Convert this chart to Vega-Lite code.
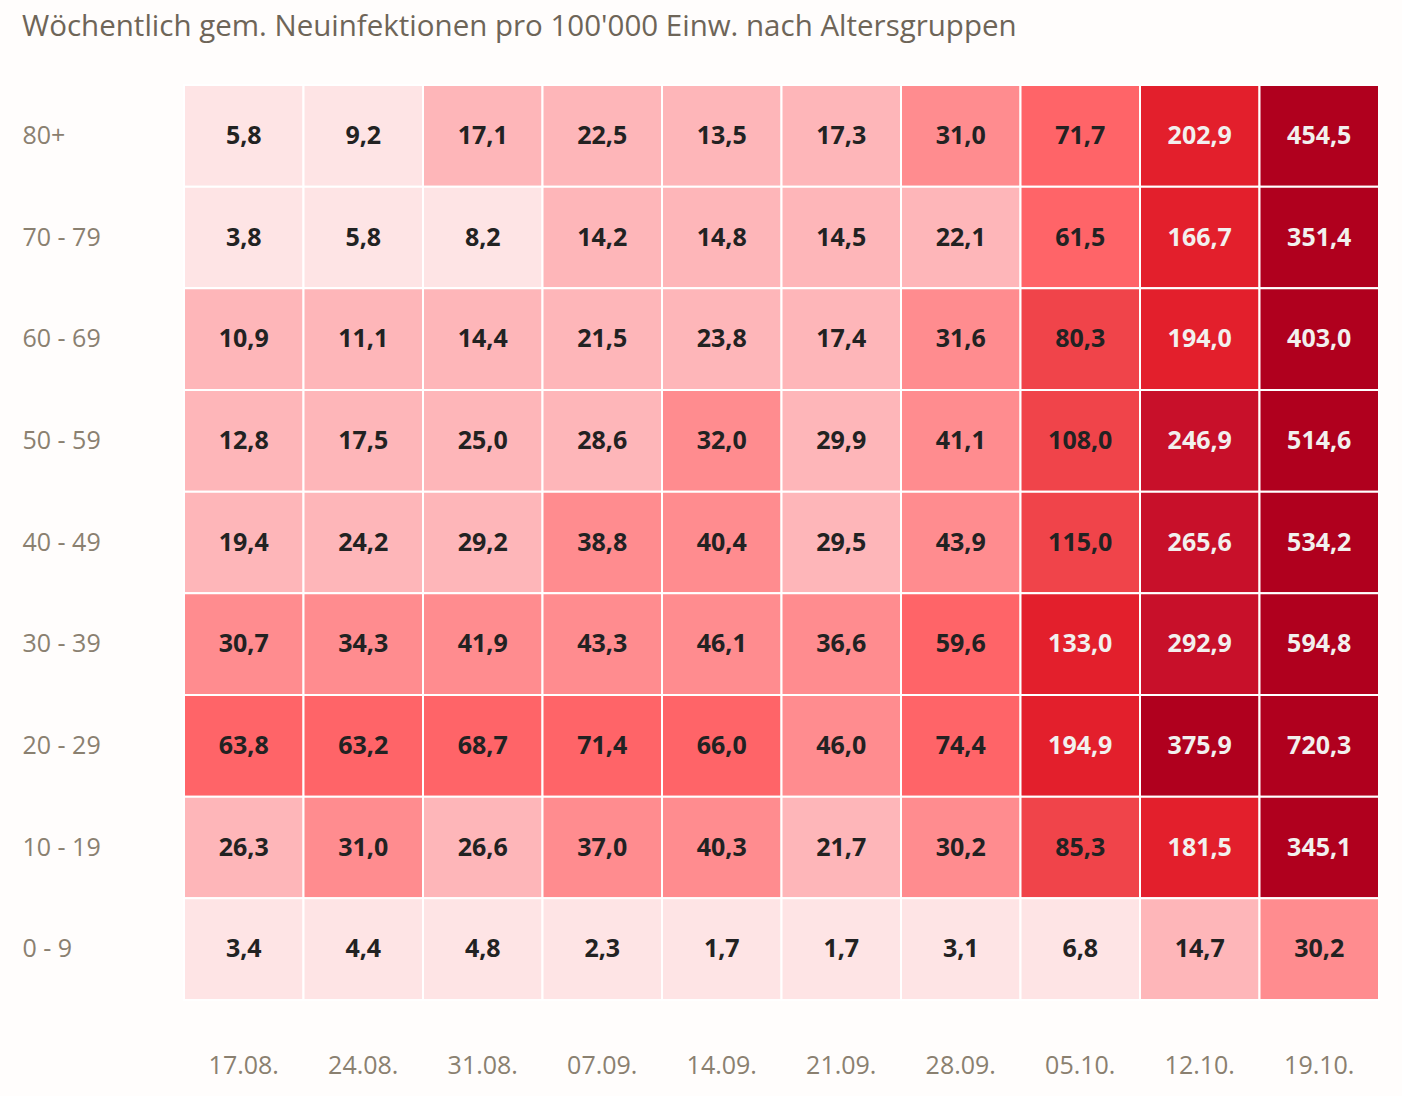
{
  "$schema": "https://vega.github.io/schema/vega-lite/v6.json",
  "autosize": "none",
  "width": 1195,
  "height": 915,
  "padding": {"left": 184, "top": 85, "right": 23, "bottom": 96},
  "background": "#fffdfc",
  "title": {
    "text": "Wöchentlich gem. Neuinfektionen pro 100'000 Einw. nach Altersgruppen",
    "anchor": "start",
    "frame": "group",
    "dx": -162,
    "offset": 42,
    "font": "Open Sans",
    "fontSize": 29.5,
    "fontWeight": "normal",
    "color": "#6e6558"
  },
  "config": {
    "view": {"stroke": null},
    "locale": {"number": {"decimal": ",", "thousands": "'", "grouping": [3], "currency": ["", ""]}}
  },
  "data": {"values": [
    {"d":"17.08.","a":"80+","v":5.8},{"d":"24.08.","a":"80+","v":9.2},{"d":"31.08.","a":"80+","v":17.1},{"d":"07.09.","a":"80+","v":22.5},{"d":"14.09.","a":"80+","v":13.5},{"d":"21.09.","a":"80+","v":17.3},{"d":"28.09.","a":"80+","v":31.0},{"d":"05.10.","a":"80+","v":71.7},{"d":"12.10.","a":"80+","v":202.9},{"d":"19.10.","a":"80+","v":454.5},
    {"d":"17.08.","a":"70 - 79","v":3.8},{"d":"24.08.","a":"70 - 79","v":5.8},{"d":"31.08.","a":"70 - 79","v":8.2},{"d":"07.09.","a":"70 - 79","v":14.2},{"d":"14.09.","a":"70 - 79","v":14.8},{"d":"21.09.","a":"70 - 79","v":14.5},{"d":"28.09.","a":"70 - 79","v":22.1},{"d":"05.10.","a":"70 - 79","v":61.5},{"d":"12.10.","a":"70 - 79","v":166.7},{"d":"19.10.","a":"70 - 79","v":351.4},
    {"d":"17.08.","a":"60 - 69","v":10.9},{"d":"24.08.","a":"60 - 69","v":11.1},{"d":"31.08.","a":"60 - 69","v":14.4},{"d":"07.09.","a":"60 - 69","v":21.5},{"d":"14.09.","a":"60 - 69","v":23.8},{"d":"21.09.","a":"60 - 69","v":17.4},{"d":"28.09.","a":"60 - 69","v":31.6},{"d":"05.10.","a":"60 - 69","v":80.3},{"d":"12.10.","a":"60 - 69","v":194.0},{"d":"19.10.","a":"60 - 69","v":403.0},
    {"d":"17.08.","a":"50 - 59","v":12.8},{"d":"24.08.","a":"50 - 59","v":17.5},{"d":"31.08.","a":"50 - 59","v":25.0},{"d":"07.09.","a":"50 - 59","v":28.6},{"d":"14.09.","a":"50 - 59","v":32.0},{"d":"21.09.","a":"50 - 59","v":29.9},{"d":"28.09.","a":"50 - 59","v":41.1},{"d":"05.10.","a":"50 - 59","v":108.0},{"d":"12.10.","a":"50 - 59","v":246.9},{"d":"19.10.","a":"50 - 59","v":514.6},
    {"d":"17.08.","a":"40 - 49","v":19.4},{"d":"24.08.","a":"40 - 49","v":24.2},{"d":"31.08.","a":"40 - 49","v":29.2},{"d":"07.09.","a":"40 - 49","v":38.8},{"d":"14.09.","a":"40 - 49","v":40.4},{"d":"21.09.","a":"40 - 49","v":29.5},{"d":"28.09.","a":"40 - 49","v":43.9},{"d":"05.10.","a":"40 - 49","v":115.0},{"d":"12.10.","a":"40 - 49","v":265.6},{"d":"19.10.","a":"40 - 49","v":534.2},
    {"d":"17.08.","a":"30 - 39","v":30.7},{"d":"24.08.","a":"30 - 39","v":34.3},{"d":"31.08.","a":"30 - 39","v":41.9},{"d":"07.09.","a":"30 - 39","v":43.3},{"d":"14.09.","a":"30 - 39","v":46.1},{"d":"21.09.","a":"30 - 39","v":36.6},{"d":"28.09.","a":"30 - 39","v":59.6},{"d":"05.10.","a":"30 - 39","v":133.0},{"d":"12.10.","a":"30 - 39","v":292.9},{"d":"19.10.","a":"30 - 39","v":594.8},
    {"d":"17.08.","a":"20 - 29","v":63.8},{"d":"24.08.","a":"20 - 29","v":63.2},{"d":"31.08.","a":"20 - 29","v":68.7},{"d":"07.09.","a":"20 - 29","v":71.4},{"d":"14.09.","a":"20 - 29","v":66.0},{"d":"21.09.","a":"20 - 29","v":46.0},{"d":"28.09.","a":"20 - 29","v":74.4},{"d":"05.10.","a":"20 - 29","v":194.9},{"d":"12.10.","a":"20 - 29","v":375.9},{"d":"19.10.","a":"20 - 29","v":720.3},
    {"d":"17.08.","a":"10 - 19","v":26.3},{"d":"24.08.","a":"10 - 19","v":31.0},{"d":"31.08.","a":"10 - 19","v":26.6},{"d":"07.09.","a":"10 - 19","v":37.0},{"d":"14.09.","a":"10 - 19","v":40.3},{"d":"21.09.","a":"10 - 19","v":21.7},{"d":"28.09.","a":"10 - 19","v":30.2},{"d":"05.10.","a":"10 - 19","v":85.3},{"d":"12.10.","a":"10 - 19","v":181.5},{"d":"19.10.","a":"10 - 19","v":345.1},
    {"d":"17.08.","a":"0 - 9","v":3.4},{"d":"24.08.","a":"0 - 9","v":4.4},{"d":"31.08.","a":"0 - 9","v":4.8},{"d":"07.09.","a":"0 - 9","v":2.3},{"d":"14.09.","a":"0 - 9","v":1.7},{"d":"21.09.","a":"0 - 9","v":1.7},{"d":"28.09.","a":"0 - 9","v":3.1},{"d":"05.10.","a":"0 - 9","v":6.8},{"d":"12.10.","a":"0 - 9","v":14.7},{"d":"19.10.","a":"0 - 9","v":30.2}
  ]},
  "encoding": {
    "x": {
      "field": "d", "type": "ordinal", "sort": null,
      "scale": {"paddingInner": 0, "paddingOuter": 0},
      "axis": {"orient": "bottom", "title": null, "domain": false, "ticks": false, "labelAngle": 0,
        "labelFont": "Open Sans", "labelFontSize": 25, "labelColor": "#8a8070", "labelPadding": 53}
    },
    "y": {
      "field": "a", "type": "ordinal", "sort": null,
      "scale": {"paddingInner": 0, "paddingOuter": 0},
      "axis": {"title": null, "domain": false, "ticks": false,
        "labelAlign": "left", "labelPadding": 162,
        "labelFont": "Open Sans", "labelFontSize": 25, "labelColor": "#8a8070"}
    }
  },
  "layer": [
    {
      "mark": {"type": "rect", "stroke": "#ffffff", "strokeWidth": 2},
      "encoding": {
        "color": {
          "field": "v", "type": "quantitative",
          "scale": {"type": "threshold", "domain": [10, 30, 50, 80, 120, 240, 320],
            "range": ["#fee4e5", "#feb6b9", "#ff8c8f", "#ff6468", "#f0444a", "#e31f2c", "#c8102a", "#b0001e"]},
          "legend": null
        }
      }
    },
    {
      "mark": {"type": "text", "font": "Open Sans", "fontSize": 25, "fontWeight": "bold"},
      "encoding": {
        "text": {"field": "v", "type": "quantitative", "format": ".1f"},
        "color": {"condition": {"test": "datum.v >= 120", "value": "#f2f0ee"}, "value": "#222222"}
      }
    }
  ]
}
